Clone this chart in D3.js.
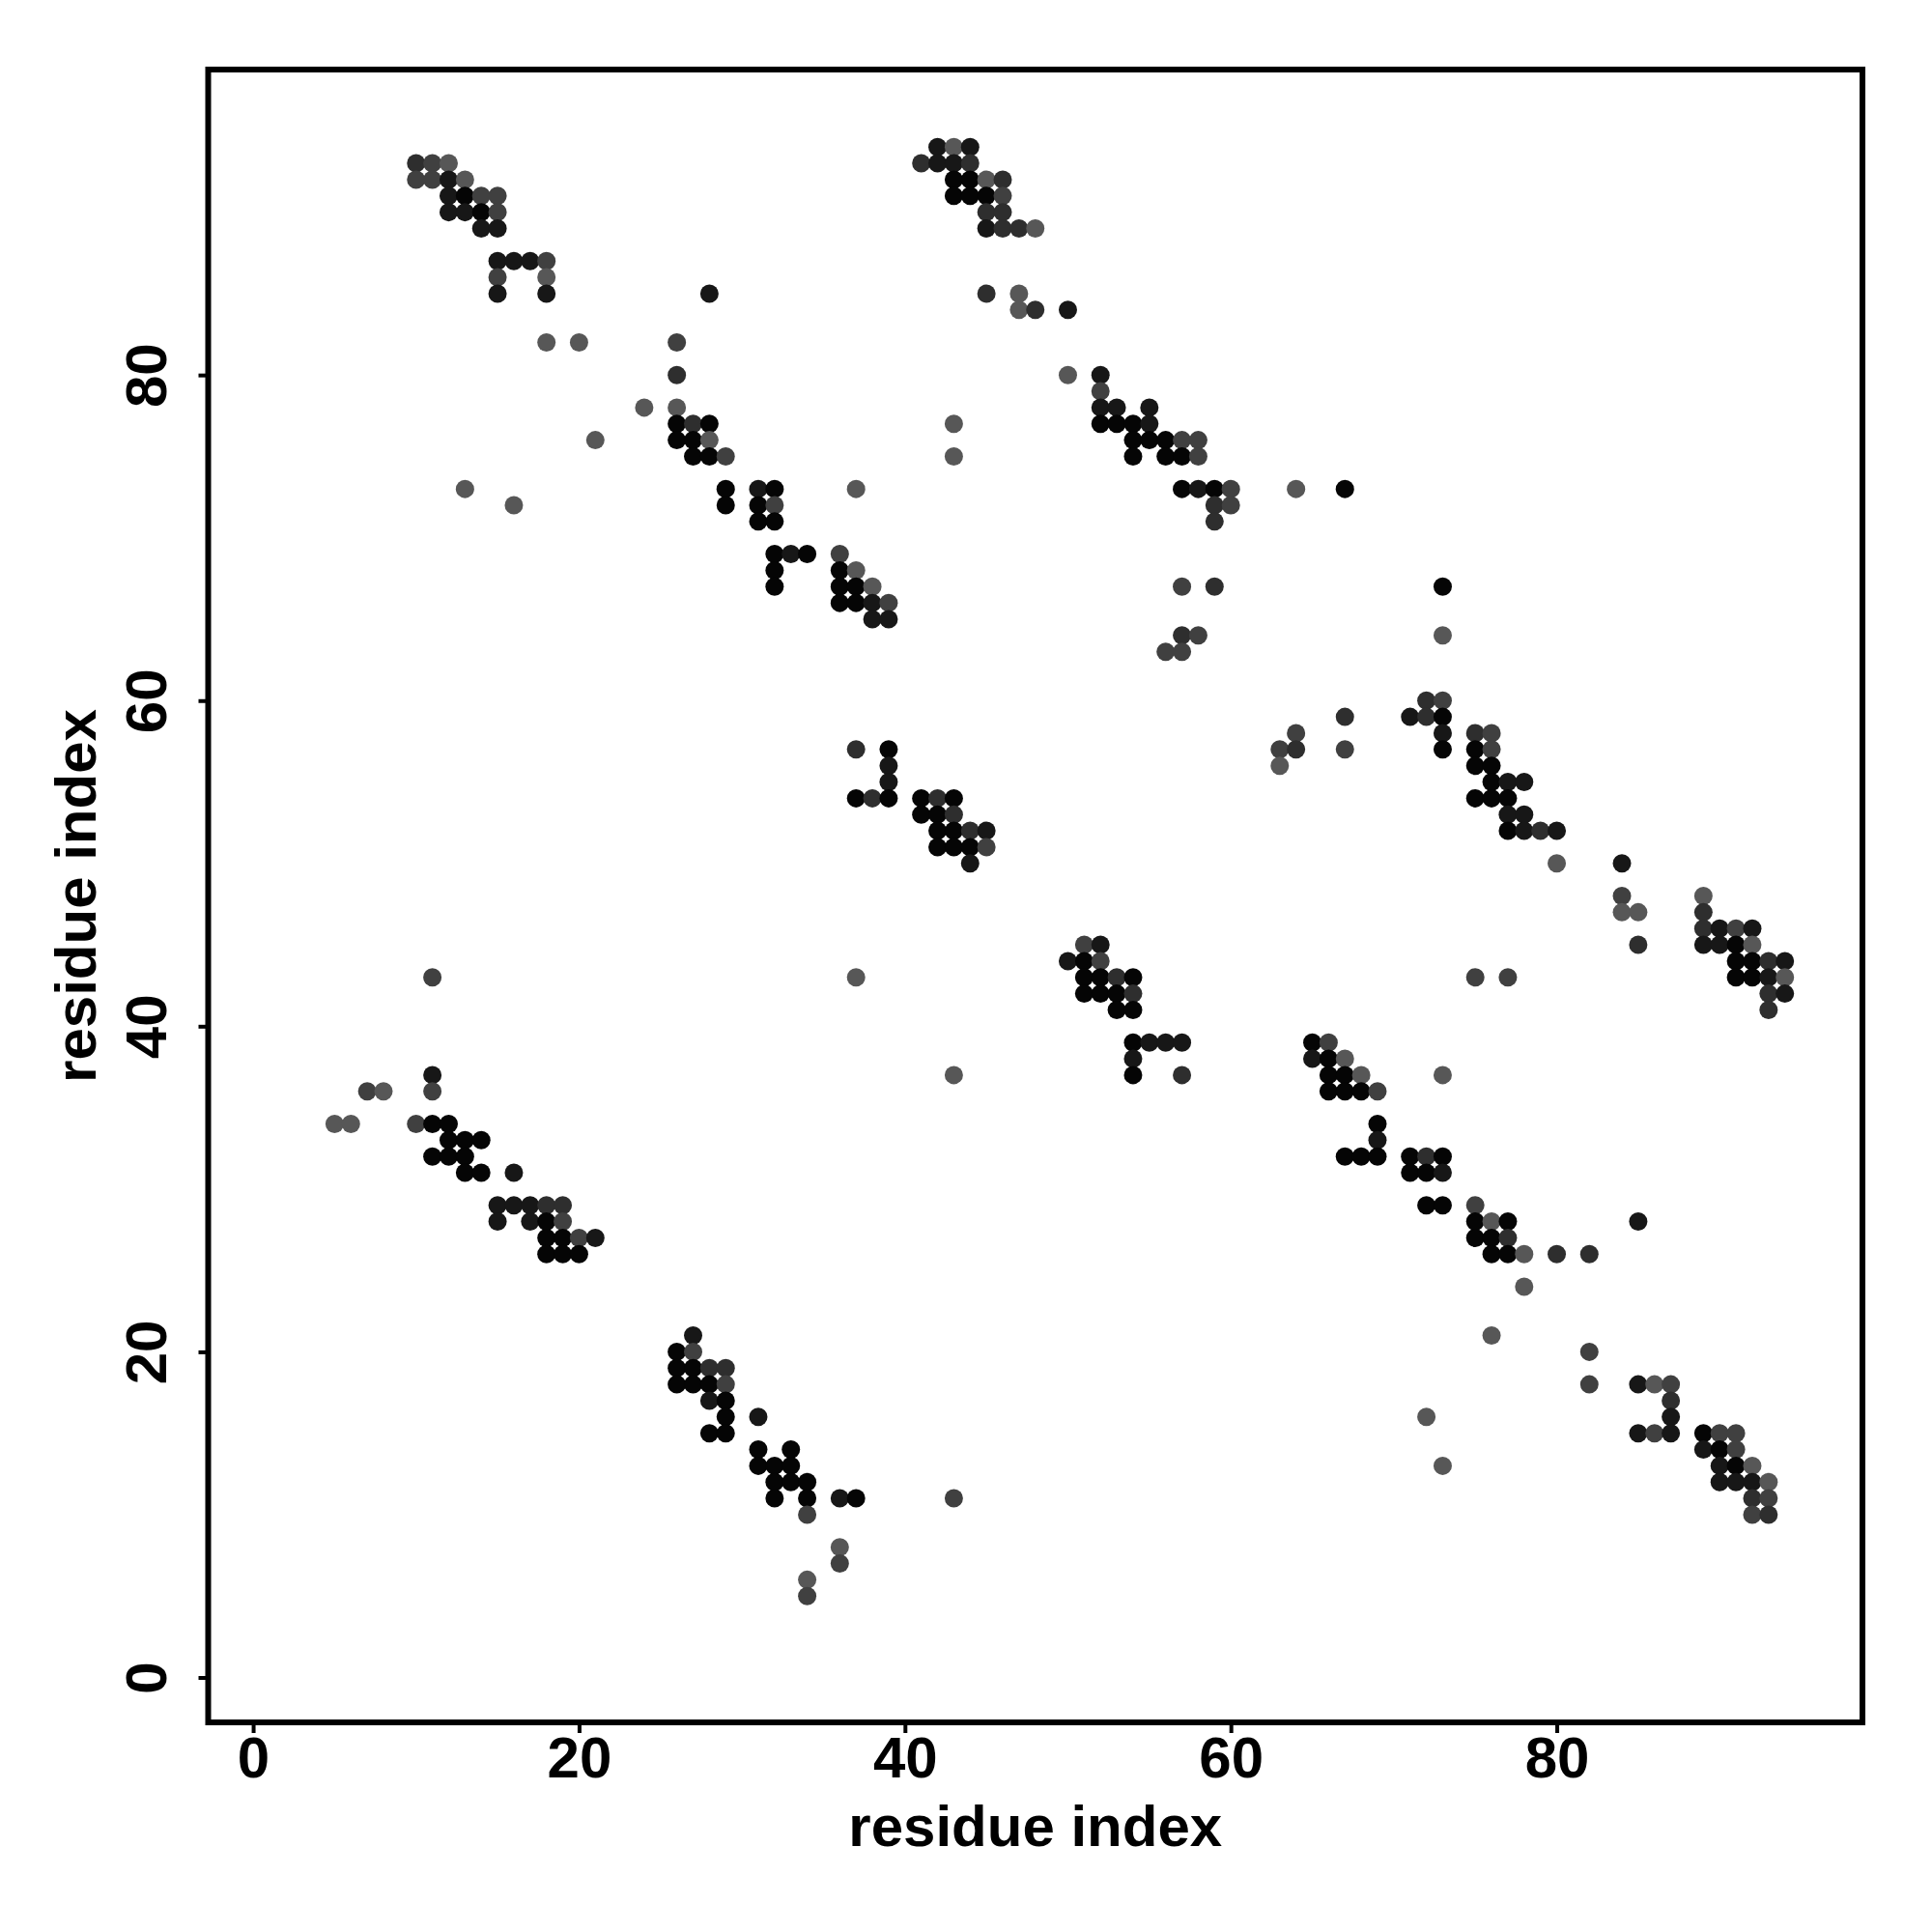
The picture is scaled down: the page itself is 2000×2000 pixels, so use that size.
<!DOCTYPE html>
<html>
<head>
<meta charset="utf-8">
<script src="https://cdn.jsdelivr.net/npm/d3@7"></script>
<style>
  html, body { margin: 0; padding: 0; background: #fff; }
  svg { display: block; }
  text { font-family: "Liberation Sans", Arial, Helvetica, sans-serif; font-weight: bold; fill: #000; }
</style>
</head>
<body>
<svg id="chart" width="2000" height="2000"></svg>
<script>
// Contact map: rows of residue index j (y), with contacting residue indices i (x) and contact strength
const rowY = [94, 93, 92, 91, 90, 89, 87, 86, 85, 84, 82, 80, 79, 78, 77, 76, 75, 73, 72, 71,
  69, 68, 67, 66, 65, 64, 63, 60, 59, 58, 57, 56, 55, 54, 53, 52, 51, 50, 48, 47,
  46, 45, 44, 43, 42, 41, 39, 38, 37, 36, 34, 33, 32, 31, 29, 28, 27, 26, 24, 21,
  20, 19, 18, 17, 16, 15, 14, 13, 12, 11, 10, 8, 7, 6, 5];

const rowX = [
  [42,43,44],
  [10,11,12,41,42,43,44],
  [10,11,12,13,43,44,45,46],
  [12,13,14,15,43,44,45,46],
  [12,13,14,15,45,46],
  [14,15,45,46,47,48],
  [15,16,17,18],
  [15,18],
  [15,18,28,45,47],
  [47,48,50],
  [18,20,26],
  [26,50,52],
  [52],
  [24,26,52,53,55],
  [26,27,28,43,52,53,54,55],
  [21,26,27,28,54,55,56,57,58],
  [27,28,29,43,54,56,57,58],
  [13,29,31,32,37,57,58,59,60,64,67],
  [16,29,31,32,59,60],
  [31,32,59],
  [32,33,34,36],
  [32,36,37],
  [32,36,37,38,57,59,73],
  [36,37,38,39],
  [38,39],
  [57,58,73],
  [56,57],
  [72,73],
  [67,71,72,73],
  [64,73,75,76],
  [37,39,63,64,67,73,75,76],
  [39,63,75,76],
  [39,76,77,78],
  [37,38,39,41,42,43,75,76,77],
  [41,42,43,77,78],
  [42,43,44,45,77,78,79,80],
  [42,43,44,45],
  [44,80,84],
  [84,89],
  [84,85,89],
  [89,90,91,92],
  [51,52,85,89,90,91,92],
  [50,51,52,91,92,93,94],
  [11,37,51,52,53,54,75,77,91,92,93,94],
  [51,52,53,54,93,94],
  [53,54,93],
  [54,55,56,57,65,66],
  [54,65,66,67],
  [11,43,54,57,66,67,68,73],
  [7,8,11,66,67,68,69],
  [5,6,10,11,12,69],
  [12,13,14,69],
  [11,12,13,67,68,69,71,72,73],
  [13,14,16,71,72,73],
  [15,16,17,18,19,72,73,75],
  [15,17,18,19,75,76,77,85],
  [18,19,20,21,75,76,77],
  [18,19,20,76,77,78,80,82],
  [78],
  [27,76],
  [26,27,82],
  [26,27,28,29],
  [26,27,28,29,82,85,86,87],
  [28,29,87],
  [29,31,72,87],
  [28,29,85,86,87,89,90,91],
  [31,33,89,90,91],
  [31,32,33,73,90,91,92],
  [32,33,34,90,91,92,93],
  [32,34,36,37,43,92,93],
  [34,92,93],
  [36],
  [36],
  [34],
  [34]
];

const rowStrength = [
  [0.75,0.05,0.75],
  [0.5,0.3,0.05,0.5,0.75,0.75,0.5],
  [0.3,0.3,0.75,0.05,0.95,0.95,0.05,0.5],
  [0.75,0.95,0.3,0.3,0.95,0.95,0.95,0.3],
  [0.75,0.75,0.95,0.3,0.5,0.5],
  [0.75,0.75,0.75,0.5,0.5,0.05],
  [0.75,0.75,0.75,0.3],
  [0.3,0.05],
  [0.75,0.75,0.75,0.5,0.05],
  [0.05,0.5,0.75],
  [0.05,0.05,0.3],
  [0.5,0.05,0.75],
  [0.3],
  [0.05,0.05,0.75,0.75,0.75],
  [0.95,0.5,0.95,0.05,0.95,0.95,0.95,0.75],
  [0.05,0.95,0.95,0.05,0.95,0.95,0.95,0.3,0.3],
  [0.95,0.95,0.3,0.05,0.95,0.95,0.95,0.3],
  [0.05,0.95,0.75,0.95,0.05,0.95,0.75,0.95,0.3,0.05,0.95],
  [0.05,0.95,0.95,0.3,0.5,0.3],
  [0.95,0.95,0.5],
  [0.95,0.75,0.95,0.3],
  [0.95,0.95,0.05],
  [0.95,0.95,0.95,0.05,0.3,0.5,0.95],
  [0.95,0.95,0.75,0.3],
  [0.75,0.75],
  [0.5,0.3,0.05],
  [0.3,0.3],
  [0.5,0.3],
  [0.5,0.75,0.5,0.95],
  [0.3,0.75,0.5,0.3],
  [0.5,0.95,0.3,0.5,0.3,0.95,0.95,0.3],
  [0.75,0.05,0.95,0.95],
  [0.75,0.95,0.75,0.75],
  [0.95,0.5,0.95,0.95,0.5,0.95,0.95,0.95,0.95],
  [0.95,0.95,0.5,0.75,0.75],
  [0.95,0.95,0.5,0.75,0.95,0.75,0.5,0.75],
  [0.95,0.95,0.95,0.3],
  [0.75,0.05,0.75],
  [0.3,0.05],
  [0.05,0.05,0.5],
  [0.5,0.75,0.3,0.75],
  [0.3,0.75,0.5,0.75,0.75,0.95,0.05],
  [0.75,0.95,0.3,0.95,0.95,0.5,0.75],
  [0.3,0.05,0.95,0.95,0.5,0.95,0.3,0.3,0.95,0.95,0.75,0.05],
  [0.95,0.95,0.95,0.5,0.5,0.75],
  [0.95,0.95,0.5],
  [0.95,0.75,0.75,0.75,0.95,0.3],
  [0.75,0.75,0.95,0.05],
  [0.75,0.05,0.95,0.5,0.95,0.95,0.05,0.05],
  [0.3,0.05,0.3,0.95,0.95,0.95,0.3],
  [0.05,0.05,0.3,0.95,0.95,0.95],
  [0.95,0.95,0.95,0.75],
  [0.95,0.95,0.95,0.95,0.95,0.95,0.95,0.5,0.95],
  [0.95,0.95,0.75,0.95,0.95,0.75],
  [0.75,0.75,0.75,0.5,0.5,0.95,0.95,0.3],
  [0.75,0.75,0.95,0.3,0.95,0.05,0.95,0.75],
  [0.95,0.95,0.3,0.75,0.95,0.95,0.5],
  [0.95,0.95,0.95,0.95,0.95,0.05,0.5,0.5],
  [0.05],
  [0.75,0.05],
  [0.95,0.3,0.3],
  [0.95,0.95,0.5,0.5],
  [0.95,0.95,0.95,0.3,0.3,0.75,0.05,0.3],
  [0.75,0.95,0.5],
  [0.95,0.75,0.05,0.75],
  [0.95,0.95,0.75,0.3,0.75,0.95,0.3,0.3],
  [0.95,0.95,0.75,0.95,0.3],
  [0.95,0.95,0.95,0.05,0.75,0.95,0.05],
  [0.95,0.95,0.95,0.75,0.75,0.75,0.05],
  [0.95,0.95,0.75,0.95,0.3,0.5,0.3],
  [0.3,0.3,0.5],
  [0.05],
  [0.3],
  [0.05],
  [0.3]
];

const xTicks = [0, 20, 40, 60, 80];
const yTicks = [0, 20, 40, 60, 80];
const xLabel = "residue index";
const yLabel = "residue index";

// Build point table from the row arrays
const contacts = [];
rowY.forEach((y, r) => {
  rowX[r].forEach((x, k) => contacts.push({ x: x, y: y, s: rowStrength[r][k] }));
});

const panel = { left: 215.5, top: 72, right: 1928, bottom: 1783 };
const domainLo = -2.76, domainHi = 98.76;

const svg = d3.select("#chart");

const xScale = d3.scaleLinear().domain([domainLo, domainHi]).range([panel.left, panel.right]);
const yScale = d3.scaleLinear().domain([domainLo, domainHi]).range([panel.bottom, panel.top]);
const color = d3.scaleLinear().domain([0, 1]).range(["#5c5c5c", "#000000"]);

// points
svg.append("g")
  .selectAll("circle")
  .data(contacts)
  .join("circle")
  .attr("cx", d => xScale(d.x))
  .attr("cy", d => yScale(d.y))
  .attr("r", 9.5)
  .attr("fill", d => color(d.s));

// box
svg.append("rect")
  .attr("x", panel.left).attr("y", panel.top)
  .attr("width", panel.right - panel.left)
  .attr("height", panel.bottom - panel.top)
  .attr("fill", "none").attr("stroke", "#000").attr("stroke-width", 6);

// x axis
const gx = svg.append("g")
  .attr("transform", `translate(0,${panel.bottom})`)
  .call(d3.axisBottom(xScale).tickValues(xTicks).tickSize(11).tickSizeOuter(0).tickFormat(d3.format("d")));
gx.select(".domain").remove();
gx.selectAll(".tick line").attr("stroke", "#000").attr("stroke-width", 4);
gx.selectAll(".tick text")
  .attr("dy", null).attr("y", 57)
  .attr("font-size", 60).style("font-family", "'Liberation Sans', Arial, sans-serif").style("font-weight", "bold");

// y axis
const gy = svg.append("g")
  .attr("transform", `translate(${panel.left},0)`)
  .call(d3.axisLeft(yScale).tickValues(yTicks).tickSize(10).tickSizeOuter(0).tickFormat(d3.format("d")));
gy.select(".domain").remove();
gy.selectAll(".tick line").attr("stroke", "#000").attr("stroke-width", 4);
gy.selectAll(".tick text")
  .attr("x", null).attr("dy", null)
  .attr("text-anchor", "middle")
  .attr("transform", "translate(-44,0) rotate(-90)")
  .attr("font-size", 60).style("font-family", "'Liberation Sans', Arial, sans-serif").style("font-weight", "bold");

// titles
svg.append("text")
  .attr("x", (panel.left + panel.right) / 2).attr("y", 1911)
  .attr("text-anchor", "middle").attr("font-size", 60)
  .text(xLabel);

svg.append("text")
  .attr("transform", `translate(99,${(panel.top + panel.bottom) / 2}) rotate(-90)`)
  .attr("text-anchor", "middle").attr("font-size", 60)
  .text(yLabel);
</script>
</body>
</html>
